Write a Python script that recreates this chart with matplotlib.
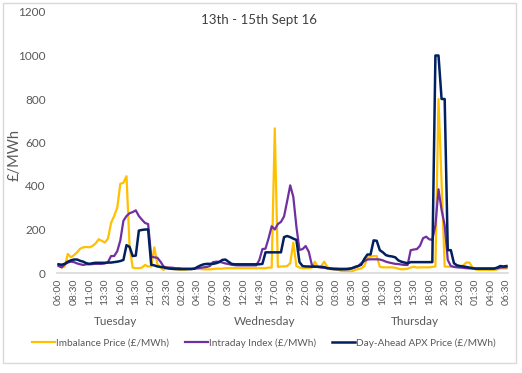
import matplotlib.pyplot as plt
from matplotlib.patches import Rectangle

# half-hourly prices, Tue 13 Sept 06:00 to Fri 16 Sept 06:30
imbalance = [40, 25, 30, 88, 72, 82, 95, 112, 118, 120,
             118, 124, 136, 155, 148, 140, 158, 230, 262, 300,
             410, 415, 445, 120, 25, 22, 22, 25, 37, 30,
             30, 118, 40, 25, 14, 28, 20, 18, 18, 15,
             15, 15, 18, 18, 20, 20, 18, 17, 17, 17,
             18, 20, 20, 20, 22, 22, 22, 22, 22, 22,
             22, 22, 22, 22, 22, 22, 22, 22, 25, 25,
             665, 28, 30, 30, 32, 45, 140, 32, 25, 22,
             22, 22, 25, 52, 26, 30, 52, 28, 18, 17,
             17, 12, 8, 6, 6, 8, 14, 18, 21, 32,
             70, 75, 78, 78, 29, 26, 26, 26, 26, 24,
             20, 17, 18, 20, 25, 29, 25, 26, 26, 26,
             26, 28, 30, 800, 420, 30, 29, 29, 29, 29,
             30, 35, 48, 48, 26, 16, 14, 14, 14, 14,
             14, 14, 16, 21, 21, 21]
intraday = [32, 26, 40, 48, 52, 50, 44, 40, 37, 40,
            40, 41, 42, 42, 42, 44, 50, 78, 78, 100,
            150, 240, 262, 275, 280, 288, 262, 245, 230, 225,
            75, 72, 70, 52, 30, 25, 25, 24, 22, 22,
            20, 20, 20, 20, 20, 22, 24, 26, 28, 32,
            50, 52, 52, 48, 44, 41, 38, 36, 35, 35,
            35, 35, 35, 35, 35, 60, 110, 112, 160, 215,
            200, 225, 235, 260, 330, 403, 350, 213, 106, 110,
            124, 98, 37, 29, 28, 25, 24, 22, 22, 21,
            21, 20, 20, 20, 21, 22, 26, 32, 45, 55,
            62, 63, 63, 63, 62, 58, 52, 48, 45, 42,
            41, 39, 37, 37, 105, 108, 110, 125, 160, 167,
            155, 152, 220, 385, 290, 220, 60, 32, 28, 26,
            25, 24, 22, 21, 21, 21, 21, 21, 21, 21,
            21, 21, 22, 25, 26, 26]
day_ahead = [40, 38, 42, 52, 58, 62, 62, 56, 52, 45,
             42, 45, 47, 47, 47, 47, 48, 48, 50, 52,
             55, 60, 128, 120, 78, 80, 195, 198, 200, 200,
             38, 35, 30, 28, 26, 22, 20, 19, 18, 18,
             18, 18, 18, 18, 20, 28, 35, 40, 42, 42,
             42, 45, 50, 60, 62, 52, 42, 40, 40, 40,
             40, 40, 40, 40, 40, 40, 42, 95, 95, 95,
             95, 95, 95, 165, 170, 165, 158, 152, 50, 32,
             30, 30, 29, 29, 29, 28, 27, 22, 20, 18,
             17, 17, 17, 17, 18, 22, 28, 32, 38, 65,
             85, 85, 150, 148, 105, 95, 82, 78, 76, 72,
             58, 52, 48, 45, 50, 50, 50, 50, 50, 50,
             50, 50, 1000, 1000, 800, 800, 105, 105, 45, 35,
             32, 30, 28, 25, 22, 20, 20, 20, 20, 20,
             20, 20, 25, 32, 30, 32]

# time labels for every half hour, first one is 06:00
times = []
for i in range(len(imbalance)):
    m = (6 * 60 + 30 * i) % (24 * 60)
    times.append('%02d:%02d' % (m // 60, m % 60))

days = ['Tuesday', 'Wednesday', 'Thursday']
day_pos = [18.4, 66.8, 115.3]

plt.rcParams['font.family'] = ['Lato', 'DejaVu Sans']
grey = '#595959'

W, H = 522, 373
fig = plt.figure(figsize=(W / 100, H / 100), dpi=100)
ax = fig.add_axes([57 / W, (H - 273) / H, (508 - 57) / W, (273 - 12) / H])

x = list(range(len(imbalance)))
ax.plot(x, imbalance, color='#FFC000', lw=1.6, label='Imbalance Price (£/MWh)')
ax.plot(x, intraday, color='#7030A0', lw=1.6, label='Intraday Index (£/MWh)')
ax.plot(x, day_ahead, color='#002060', lw=1.8, label='Day-Ahead APX Price (£/MWh)')

ax.set_xlim(-0.5, len(x) - 0.5)
ax.set_ylim(0, 1200)
ax.set_yticks(range(0, 1201, 200))
ax.set_xticks(x[::5])
ax.set_xticklabels(times[::5], rotation=90, fontsize=7.5, color=grey)
ax.tick_params(axis='y', length=0, pad=8, labelsize=8.5, labelcolor=grey)
ax.tick_params(axis='x', length=0, pad=4)
for s in ['top', 'right', 'left']:
    ax.spines[s].set_visible(False)
ax.spines['bottom'].set_color('#D9D9D9')
ax.spines['bottom'].set_linewidth(1.2)

# y axis title
fig.text(15 / W, 1 - 155 / H, '£/MWh', rotation=90, ha='center', va='center',
         fontsize=10.5, color=grey)

# day names under the time labels
for d, p in zip(days, day_pos):
    ax.text(p, -0.185, d, transform=ax.get_xaxis_transform(), ha='center',
            va='center', fontsize=8.5, color=grey)

fig.text(0.497, 1 - 20 / H, '13th - 15th Sept 16', ha='center', va='center',
         fontsize=9.5, color='#404040')

fig.legend(loc='center', bbox_to_anchor=(0.505, 1 - 343 / H), ncol=3,
           frameon=False, fontsize=7.2, handlelength=2.3, handletextpad=0.1,
           columnspacing=1.6, labelcolor=grey)

# light chart border
fig.patches.append(Rectangle((3 / W, (H - 363) / H), 513 / W, 360 / H,
                             transform=fig.transFigure, fill=False,
                             edgecolor='#D9D9D9', lw=1))

fig.savefig('out.png', dpi=100)
